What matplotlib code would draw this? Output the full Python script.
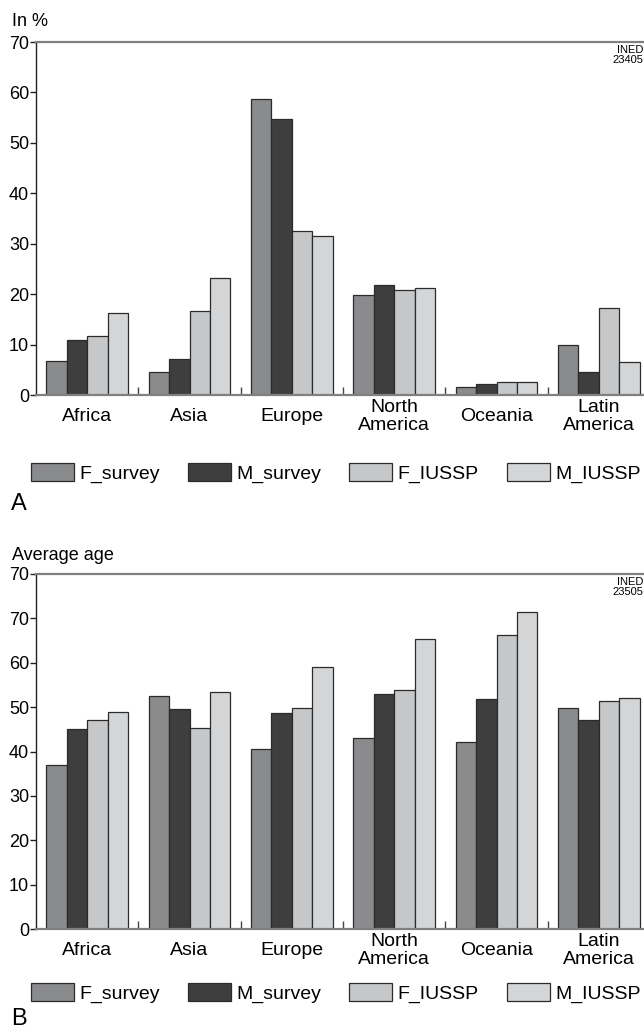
import matplotlib
matplotlib.use("Agg")
import matplotlib.pyplot as plt
import numpy as np

plt.rcParams['font.family'] = ['Liberation Sans', 'DejaVu Sans']

regions = ["Africa", "Asia", "Europe", "North\nAmerica", "Oceania", "Latin\nAmerica"]
series_names = ["F_survey", "M_survey", "F_IUSSP", "M_IUSSP"]
colors = ["#8a8b8d", "#3e3e3e", "#c6c7c9", "#d4d5d7"]

# Panel A: in %
pct_F_survey = [6.8, 4.5, 58.7, 19.9, 1.5, 10.0]
pct_M_survey = [11.0, 7.2, 54.8, 21.8, 2.1, 4.6]
pct_F_IUSSP = [11.7, 16.7, 32.6, 20.8, 2.6, 17.3]
pct_M_IUSSP = [16.2, 23.3, 31.6, 21.2, 2.6, 6.6]

# Panel B: average age
age_F_survey = [37.0, 52.4, 40.6, 43.1, 42.2, 49.8]
age_M_survey = [45.0, 49.5, 48.6, 52.9, 51.8, 47.1]
age_F_IUSSP = [47.1, 45.4, 49.9, 53.8, 66.3, 51.4]
age_M_IUSSP = [48.9, 53.5, 59.1, 65.4, 71.5, 52.0]

ticks_A = [0, 10, 20, 30, 40, 50, 60, 70]
ticklabels_A = ["0", "10", "20", "30", "40", "50", "60", "70"]
ticks_B = [0, 10, 20, 30, 40, 50, 60, 70, 80]
ticklabels_B = ["0", "10", "20", "30", "40", "50", "60", "70", "70"]

W, H = 644, 1032
fig = plt.figure(figsize=(W / 100, H / 100), dpi=100)


def draw_panel(top_px, bottom_px, data, ylim, yticks, yticklabels, ylabel,
               ined, legend_y, letter, letter_y, ylabel_y):
    left_px, right_px = 36, 650
    ax = fig.add_axes([left_px / W, 1 - bottom_px / H,
                       (right_px - left_px) / W, (bottom_px - top_px) / H])
    x = np.arange(len(regions))
    for k, (vals, c, name) in enumerate(zip(data, colors, series_names)):
        ax.bar(x + 0.1 + 0.2 * k, vals, width=0.2, align='edge', color=c,
               edgecolor='#2b2b2b', linewidth=0.9, label=name, zorder=2)
    ax.set_xlim(0, len(regions))
    ax.set_ylim(*ylim)
    ax.set_yticks(yticks)
    ax.set_yticklabels(yticklabels, fontsize=13)
    ax.set_xticks(x + 0.5)
    ax.set_xticklabels(regions, fontsize=14, va='center', linespacing=1.02)
    ax.set_xticks(np.arange(1, len(regions)), minor=True)
    ax.tick_params(axis='x', which='major', length=0, pad=15.5)
    ax.tick_params(axis='x', which='minor', direction='in', length=6,
                   width=1, color='#444444')
    ax.tick_params(axis='y', direction='out', length=4, width=1, pad=1,
                   color='#222222')
    ax.spines['right'].set_visible(False)
    ax.spines['top'].set_color('#808080')
    ax.spines['top'].set_linewidth(1.6)
    ax.spines['bottom'].set_color('#808080')
    ax.spines['bottom'].set_linewidth(1.6)
    ax.spines['left'].set_color('#222222')
    ax.spines['left'].set_linewidth(1.0)
    fig.text(12 / W, 1 - ylabel_y / H, ylabel, fontsize=13, va='center',
             ha='left')
    fig.text(643 / W, 1 - (top_px + 13) / H, ined, fontsize=8, va='center',
             ha='right', linespacing=1.05)
    handles, labels = ax.get_legend_handles_labels()
    fig.legend(handles, labels, loc='center left',
               bbox_to_anchor=(31 / W, 1 - legend_y / H), ncol=4,
               frameon=False, fontsize=14, handlelength=2.2,
               handleheight=1.0, handletextpad=0.28, columnspacing=1.45,
               borderpad=0, borderaxespad=0)
    fig.text(11 / W, 1 - letter_y / H, letter, fontsize=17, va='center',
             ha='left')
    return ax


draw_panel(42, 395, [pct_F_survey, pct_M_survey, pct_F_IUSSP, pct_M_IUSSP],
           (0, 70), ticks_A, ticklabels_A, "In %", "INED\n23405", 473, "A",
           504, 22)
draw_panel(574, 929, [age_F_survey, age_M_survey, age_F_IUSSP, age_M_IUSSP],
           (0, 80), ticks_B, ticklabels_B, "Average age", "INED\n23505", 993,
           "B", 1019, 555)

fig.savefig("out.png", dpi=100)
